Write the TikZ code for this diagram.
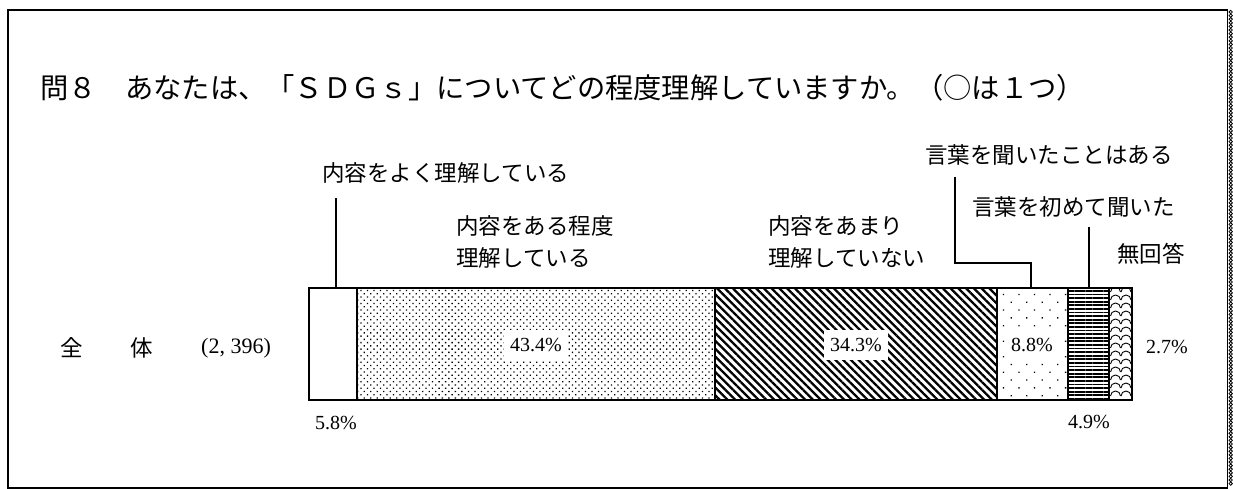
\documentclass[tikz,border=0pt]{standalone}
\usepackage{fontspec}
\setmainfont{Liberation Serif}
\newfontfamily\jpfont{Noto Sans CJK JP}
\usetikzlibrary{patterns.meta, positioning}

\begin{document}
\begin{tikzpicture}[x=1pt, y=-1pt,
    frameline/.style={line width=1.8pt},
    barline/.style={line width=1.8pt},
    leader/.style={line width=1.3pt},
    jlabel/.style={font=\jpfont\fontsize{22.5}{32}\selectfont, inner sep=0pt, anchor=west, align=left},
    pct/.style={font=\fontsize{20}{22}\selectfont, inner sep=0pt},
    pctbox/.style={pct, fill=white, inner xsep=6pt, inner ysep=8pt}]
    \useasboundingbox (0,0) rectangle (1233,489);

    % Frame
    \draw[frameline] (1228,10) -- (8,10) -- (8,488) -- (1228,488);
    \draw[line width=1pt] (1227.5,10) -- (1227.5,488);
    \foreach \k in {0,...,131}
        \draw[line width=0.8pt] (1230.7,12+3.6*\k) circle (1.7);

    % Title
    \node[font=\jpfont\fontsize{28.3}{32}\selectfont, inner sep=0pt, anchor=west] (title) at (40,88)
        {問８　あなたは、「ＳＤＧｓ」についてどの程度理解していますか。（○は１つ）};

    % Bar segments
    \fill[pattern={Dots[radius=0.9pt, distance=4.6pt, angle=45]}] (357,288) rectangle (715,400);
    \fill[pattern={Lines[angle=-45, distance=5.5pt, line width=2.3pt]}] (715,288) rectangle (997,400);
    \fill[pattern={Dots[radius=0.9pt, distance=11pt, angle=45]}] (997,288) rectangle (1068,400);
    \fill[pattern={Lines[angle=0, distance=3.6pt, line width=1.8pt]}] (1068,288) rectangle (1109,400);
    \begin{scope}
        \clip (1109,288) rectangle (1132,400);
        \foreach \r in {0,...,13}
            \foreach \c in {1110.5,1121}
                \draw[line width=0.9pt] (\c,292+8*\r) arc[start angle=180, end angle=360, radius=5];
    \end{scope}
    \foreach \xa/\xb in {309/357, 357/715, 715/997, 997/1068, 1068/1109, 1109/1132}
        \draw[barline] (\xa,288) rectangle (\xb,400);

    % Segment tops for leaders
    \coordinate (s1top) at (336,288);
    \coordinate (s4top) at (1031,288);
    \coordinate (s5top) at (1089,288);

    % Row label
    \node[jlabel, anchor=center] (zen) at (72,348) {全};
    \node[jlabel, anchor=center] (tai) at (142,348) {体};
    \node[pct, font=\fontsize{22}{24}\selectfont] (n) at (236,348) {(2, 396)};

    % Values
    \node[pctbox] (v2) at (536,345) {43.4\%};
    \node[pctbox] (v3) at (856,345) {34.3\%};
    \node[pctbox] (v4) at (1032,345) {8.8\%};
    \node[pct, anchor=west] (v6) at (1146,347) {2.7\%};
    \node[pct] (v1) at (336,423) {5.8\%};
    \node[pct] (v5) at (1089,422) {4.9\%};

    % Category labels
    \node[jlabel] (c1) at (322,173) {内容をよく理解している};
    \node[jlabel] (c2) at (456,242) {内容をある程度\\理解している};
    \node[jlabel] (c3) at (768,242) {内容をあまり\\理解していない};
    \node[jlabel] (c4) at (925,155) {言葉を聞いたことはある};
    \node[jlabel] (c5) at (972,207) {言葉を初めて聞いた};
    \node[jlabel] (c6) at (1117,254) {無回答};

    % Leaders
    \coordinate (l1) at (336,198);
    \coordinate (l4) at (955,177);
    \coordinate (l5) at (1089,227);
    \draw[leader] (l1) -- (s1top);
    \draw[leader] (l4) -- ++(0,86) -| (s4top);
    \draw[leader] (l5) -- (s5top);
\end{tikzpicture}
\end{document}
